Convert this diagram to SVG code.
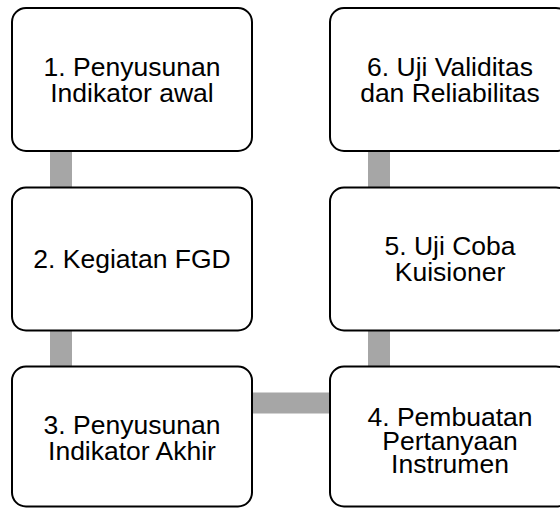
<svg xmlns="http://www.w3.org/2000/svg" width="560" height="508" viewBox="0 0 560 508">
  <style>
    .box { fill: #ffffff; stroke: #000000; stroke-width: 2; }
    .link { fill: #a6a6a6; stroke: none; }
    .label { font-family: "Liberation Sans", Arial, sans-serif; font-size: 26.5px; fill: #000000; text-anchor: middle; }
  </style>
  <rect width="560" height="508" fill="#ffffff"/>

  <!-- connectors between process steps -->
  <g id="connectors">
    <rect class="link" x="50" y="150" width="22" height="38"/>
    <rect class="link" x="50" y="329" width="22" height="38"/>
    <rect class="link" x="251" y="392.5" width="80" height="21"/>
    <rect class="link" x="368" y="329" width="22" height="38"/>
    <rect class="link" x="368" y="150" width="22" height="38"/>
  </g>

  <!-- left column -->
  <g id="step1">
    <rect class="box" x="12" y="8" width="240" height="143" rx="14" ry="14"/>
    <text class="label" x="132" y="76">1. Penyusunan</text>
    <text class="label" x="132" y="102">Indikator awal</text>
  </g>
  <g id="step2">
    <rect class="box" x="12" y="187.5" width="240" height="143" rx="14" ry="14"/>
    <text class="label" x="132" y="268">2. Kegiatan FGD</text>
  </g>
  <g id="step3">
    <rect class="box" x="12" y="366.5" width="240" height="140" rx="14" ry="14"/>
    <text class="label" x="132" y="433.5">3. Penyusunan</text>
    <text class="label" x="132" y="460">Indikator Akhir</text>
  </g>

  <!-- right column -->
  <g id="step4">
    <rect class="box" x="330" y="366.5" width="240" height="140" rx="14" ry="14"/>
    <text class="label" x="450" y="426">4. Pembuatan</text>
    <text class="label" x="450" y="449.5">Pertanyaan</text>
    <text class="label" x="450" y="473">Instrumen</text>
  </g>
  <g id="step5">
    <rect class="box" x="330" y="187.5" width="240" height="143" rx="14" ry="14"/>
    <text class="label" x="450" y="255">5. Uji Coba</text>
    <text class="label" x="450" y="281">Kuisioner</text>
  </g>
  <g id="step6">
    <rect class="box" x="330" y="8" width="240" height="143" rx="14" ry="14"/>
    <text class="label" x="450" y="76">6. Uji Validitas</text>
    <text class="label" x="450" y="102">dan Reliabilitas</text>
  </g>
</svg>
